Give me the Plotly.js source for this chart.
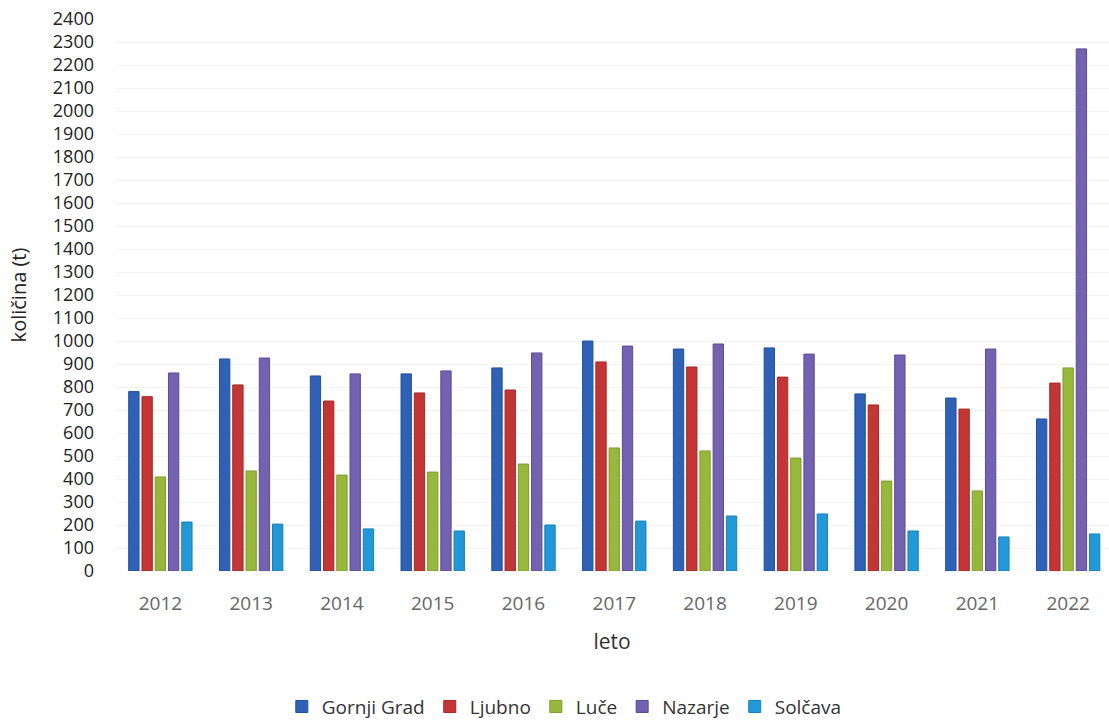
<!DOCTYPE html>
<html><head><meta charset="utf-8">
<script src="https://cdn.plot.ly/plotly-3.0.1.min.js"></script>
<style>html,body{margin:0;padding:0;background:#fff}#chart{width:1109px;height:724px}</style>
</head><body><div id="chart"></div>
<script>
const years = ['2012','2013','2014','2015','2016','2017','2018','2019','2020','2021','2022'];
const gornjiGrad = [780, 922, 848, 857, 883, 1000, 965, 970, 770, 752, 661];
const ljubno     = [758, 809, 739, 774, 787, 909, 887, 843, 722, 704, 817];
const luce       = [409, 435, 417, 430, 465, 535, 522, 491, 391, 348, 883];
const nazarje    = [861, 926, 857, 870, 948, 978, 987, 943, 939, 965, 2270];
const solcava    = [213, 204, 183, 174, 200, 217, 239, 248, 174, 148, 161];
const seriesNames = ['Gornji Grad','Ljubno','Luče','Nazarje','Solčava'];
const seriesColors = ['#2f62b6','#c43535','#98b83c','#7262b0','#2299d6'];
const seriesLines = ['#1f4f9c','#a82828','#7f9c2c','#5a4b96','#1680b8'];
const allVals = [gornjiGrad, ljubno, luce, nazarje, solcava];

const traces = allVals.map((v,i)=>({
  type:'bar', x: years, y: v, name: seriesNames[i],
  marker:{color: seriesColors[i], line:{color: seriesLines[i], width:1}}
}));

const layout = {
  width:1109, height:724,
  margin:{l:115, r:0, t:19, b:153, autoexpand:false},
  paper_bgcolor:'#fff', plot_bgcolor:'#fff',
  font:{family:'"Open Sans", "Noto Sans", sans-serif', color:'#333'},
  barmode:'group', bargap:0.27, bargroupgap:0.22,
  xaxis:{
    type:'category', range:[-0.5, 10.45], automargin:false,
    showgrid:false, zeroline:false, showline:false,
    ticks:'', ticklabelstandoff:19,
    tickfont:{size:19, color:'#666'},
    title:{text:'leto', font:{size:21, color:'#333'}, standoff:19}
  },
  yaxis:{
    range:[0,2400], dtick:100, tick0:0, automargin:false,
    showgrid:true, gridcolor:'#f3f3f3', gridwidth:1,
    zeroline:false, showline:false, ticks:'', ticklabelstandoff:20,
    tickfont:{size:18, color:'#222'},
    title:{text:'količina (t)', font:{size:20, color:'#222'}, standoff:20}
  },
  legend:{orientation:'h', x:0.452, xanchor:'center', yref:'container', y:0.024, yanchor:'middle',
    font:{size:19, color:'#333'}, itemwidth:20, traceorder:'normal'},
  showlegend:true
};
Plotly.newPlot('chart', traces, layout, {displayModeBar:false, staticPlot:true});
</script></body></html>
